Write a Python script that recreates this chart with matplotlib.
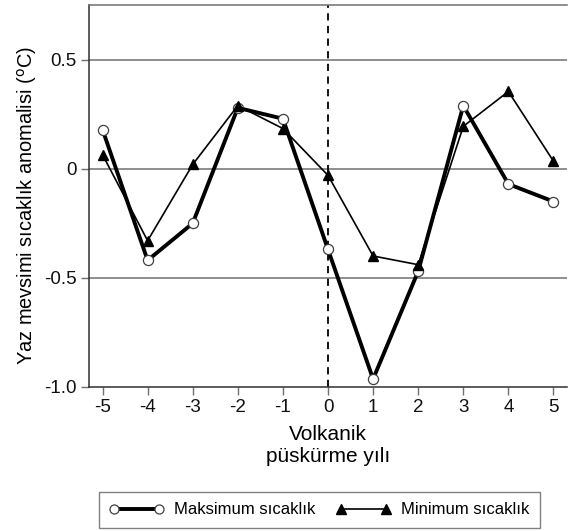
import matplotlib
matplotlib.use("Agg")
import matplotlib.pyplot as plt
from matplotlib.lines import Line2D

plt.rcParams['font.family'] = ['Liberation Sans', 'DejaVu Sans']

years = [-5, -4, -3, -2, -1, 0, 1, 2, 3, 4, 5]
max_temp = [0.18, -0.42, -0.25, 0.28, 0.23, -0.37, -0.965, -0.47, 0.29, -0.07, -0.15]
min_temp = [0.065, -0.33, 0.02, 0.29, 0.185, -0.03, -0.40, -0.44, 0.195, 0.355, 0.035]
yticks = [-1.0, -0.5, 0, 0.5]
ytick_labels = ['-1.0', '-0.5', '0', '0.5']
xticks = years
xtick_labels = [str(v) for v in years]

fig = plt.figure(figsize=(5.68, 5.31), dpi=100)
ax = fig.add_axes([89/568, 1-386.7/531, (567-89)/568, (386.7-5)/531])

grid_c = '#707070'
for yv in [-0.5, 0, 0.5]:
    ax.axhline(yv, color=grid_c, lw=1.1, zorder=1)

ax.axvline(0, color='black', lw=1.3, ls=(0, (4, 3)), zorder=2)

ax.plot(years, max_temp, color='black', lw=2.8, marker='o', markersize=7.3,
        markerfacecolor='white', markeredgecolor='#404040', markeredgewidth=0.9, zorder=3)
ax.plot(years, min_temp, color='black', lw=1.2, marker='^', markersize=7,
        markerfacecolor='black', markeredgecolor='black', zorder=4)

ax.set_xlim(-5.3, 5.3)
ax.set_ylim(-1.0, 0.752)
ax.set_yticks(yticks)
ax.set_yticklabels(ytick_labels)
ax.set_xticks(xticks)
ax.set_xticklabels(xtick_labels)
ax.tick_params(axis='both', direction='out', length=6, width=1.0, color=grid_c,
               labelsize=13.5, colors='#111111')
ax.tick_params(axis='y', pad=3)
ax.tick_params(axis='x', pad=3)

for s in ['left', 'bottom']:
    ax.spines[s].set_color('#303030')
    ax.spines[s].set_linewidth(1.1)
ax.spines['top'].set_color(grid_c)
ax.spines['top'].set_linewidth(1.1)
ax.spines['right'].set_visible(False)

ax.set_ylabel('Yaz mevsimi sıcaklık anomalisi ($^{\\mathrm{o}}$C)', fontsize=14.4)
ax.yaxis.set_label_coords(-0.105, 0.474)
ax.set_xlabel('Volkanik\npüskürme yılı', fontsize=15, labelpad=6, linespacing=1.2)

h1 = Line2D([], [], color='black', lw=2.8, marker='o', markersize=6.5,
            markerfacecolor='white', markeredgecolor='#404040', markeredgewidth=0.9)
h2 = Line2D([], [], color='black', lw=1.2, marker='^', markersize=6.5,
            markerfacecolor='black', markeredgecolor='black')
leg = fig.legend([h1, h2], ['Maksimum sıcaklık', 'Minimum sıcaklık'],
                 loc='center', bbox_to_anchor=(319.5/568, 1-510/531), ncol=2,
                 numpoints=2, fontsize=12, frameon=True, fancybox=False,
                 handlelength=3.3, columnspacing=1.25, handletextpad=0.6,
                 borderpad=0.62)
leg.get_frame().set_edgecolor('#606060')
leg.get_frame().set_linewidth(1.0)

fig.savefig('out.png', dpi=100)
